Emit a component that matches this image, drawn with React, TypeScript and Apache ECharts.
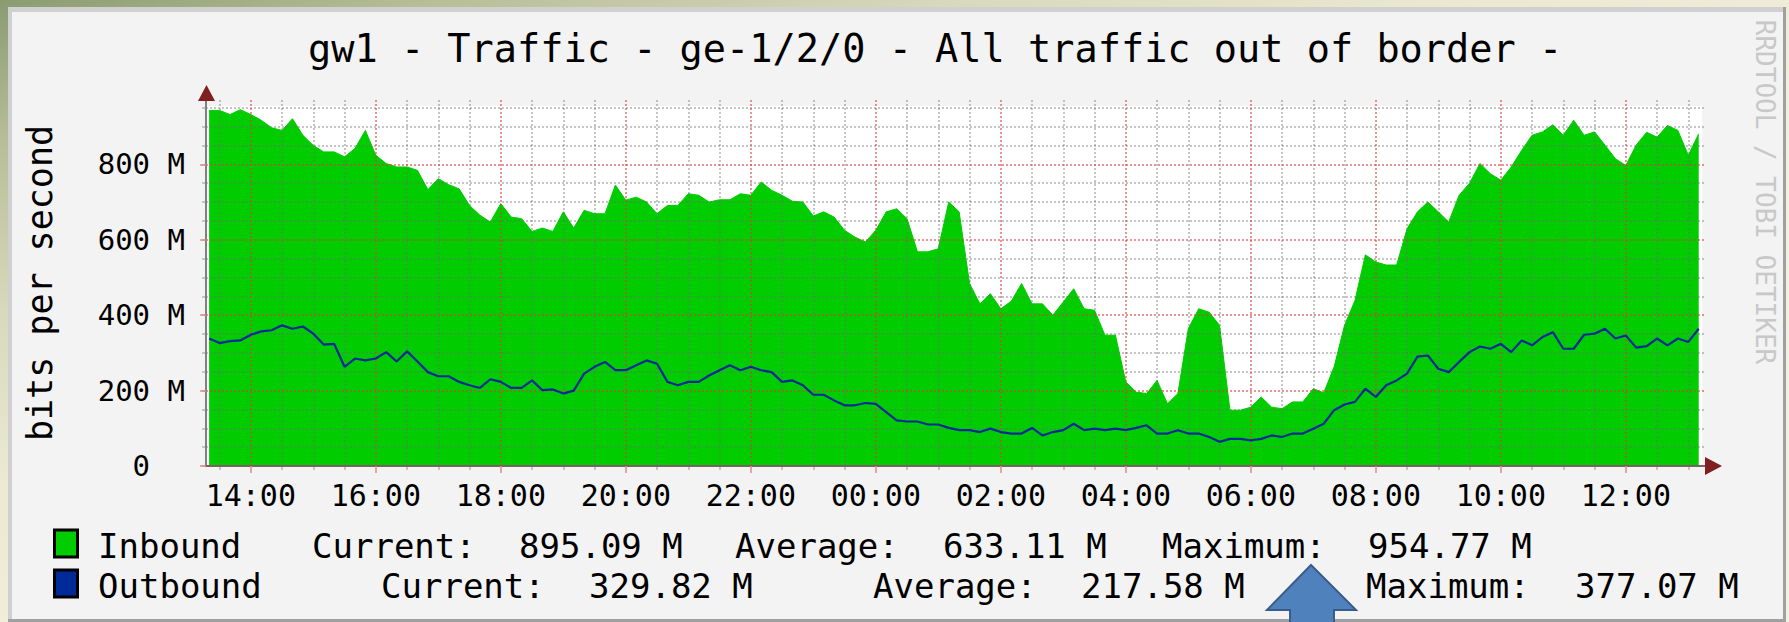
import React, { useEffect, useRef } from 'react';
import * as echarts from 'echarts';

// ---------------- data ----------------
const TITLE = 'gw1 - Traffic - ge-1/2/0 - All traffic out of border -';
const Y_AXIS_NAME = 'bits per second';
const WATERMARK = 'RRDTOOL / TOBI OETIKER';

const timeLabels = [
  '13:20', '13:30', '13:40', '13:50',
  '14:00', '14:10', '14:20', '14:30', '14:40', '14:50',
  '15:00', '15:10', '15:20', '15:30', '15:40', '15:50',
  '16:00', '16:10', '16:20', '16:30', '16:40', '16:50',
  '17:00', '17:10', '17:20', '17:30', '17:40', '17:50',
  '18:00', '18:10', '18:20', '18:30', '18:40', '18:50',
  '19:00', '19:10', '19:20', '19:30', '19:40', '19:50',
  '20:00', '20:10', '20:20', '20:30', '20:40', '20:50',
  '21:00', '21:10', '21:20', '21:30', '21:40', '21:50',
  '22:00', '22:10', '22:20', '22:30', '22:40', '22:50',
  '23:00', '23:10', '23:20', '23:30', '23:40', '23:50',
  '00:00', '00:10', '00:20', '00:30', '00:40', '00:50',
  '01:00', '01:10', '01:20', '01:30', '01:40', '01:50',
  '02:00', '02:10', '02:20', '02:30', '02:40', '02:50',
  '03:00', '03:10', '03:20', '03:30', '03:40', '03:50',
  '04:00', '04:10', '04:20', '04:30', '04:40', '04:50',
  '05:00', '05:10', '05:20', '05:30', '05:40', '05:50',
  '06:00', '06:10', '06:20', '06:30', '06:40', '06:50',
  '07:00', '07:10', '07:20', '07:30', '07:40', '07:50',
  '08:00', '08:10', '08:20', '08:30', '08:40', '08:50',
  '09:00', '09:10', '09:20', '09:30', '09:40', '09:50',
  '10:00', '10:10', '10:20', '10:30', '10:40', '10:50',
  '11:00', '11:10', '11:20', '11:30', '11:40', '11:50',
  '12:00', '12:10', '12:20', '12:30', '12:40', '12:50',
  '13:00', '13:10',
];

// Inbound traffic, Mbit/s
const inbound = [
  943, 943, 932, 945,
  932, 917, 897, 890, 921, 877,
  850, 833, 833, 820, 842, 890,
  824, 802, 793, 793, 784, 733,
  762, 746, 735, 691, 665, 647,
  696, 660, 656, 622, 631, 622,
  674, 631, 678, 669, 669, 745,
  705, 713, 700, 669, 691, 691,
  722, 718, 700, 706, 706, 722,
  718, 753, 731, 718, 702, 700,
  663, 674, 660, 625, 607, 594,
  625, 674, 682, 656, 568, 568,
  576, 700, 674, 484, 430, 457,
  417, 437, 484, 430, 430, 400,
  435, 470, 417, 413, 347, 347,
  223, 196, 192, 227, 165, 192,
  364, 417, 408, 373, 148, 148,
  156, 183, 156, 152, 170, 170,
  205, 194, 263, 373, 439, 560,
  541, 533, 533, 629, 674, 700,
  674, 647, 718, 750, 802, 775,
  758, 793, 837, 877, 886, 905,
  877, 917, 877, 886, 851, 815,
  797, 851, 885, 872, 903, 890,
  824, 881,
];

// Outbound traffic, Mbit/s
const outbound = [
  338, 326, 331, 333,
  348, 357, 360, 373, 364, 370,
  351, 322, 324, 263, 285, 280,
  285, 302, 277, 304, 277, 249,
  238, 238, 223, 214, 207, 230,
  223, 207, 207, 227, 201, 203,
  192, 200, 245, 263, 276, 254,
  254, 267, 280, 271, 223, 214,
  223, 223, 240, 254, 267, 254,
  263, 254, 249, 223, 227, 214,
  189, 189, 174, 161, 161, 167,
  165, 143, 121, 118, 118, 110,
  110, 101, 95, 95, 90, 99,
  90, 86, 86, 101, 81, 90,
  95, 112, 95, 99, 95, 99,
  95, 101, 108, 86, 86, 95,
  86, 86, 77, 64, 72, 72,
  68, 72, 81, 77, 86, 86,
  99, 112, 148, 163, 170, 205,
  183, 214, 227, 245, 290, 293,
  258, 249, 276, 302, 317, 311,
  324, 302, 333, 320, 342, 355,
  311, 311, 348, 351, 364, 338,
  346, 314, 318, 338, 320, 338,
  329, 364,
];

const xTickLabels = ['14:00', '16:00', '18:00', '20:00', '22:00', '00:00', '02:00', '04:00', '06:00', '08:00', '10:00', '12:00'];
const yTickValues = [0, 200, 400, 600, 800];
const yTickLabels = ['0', '200 M', '400 M', '600 M', '800 M'];

const legendNames = ['Inbound', 'Outbound'];
const legendColors = ['#00cc00', '#002a97'];
const statLabels = ['Current:', 'Average:', 'Maximum:'];
const inboundStats = ['895.09 M', '633.11 M', '954.77 M'];
const outboundStats = ['329.82 M', '217.58 M', '377.07 M'];

// ---------------- layout ----------------
const W = 1789;
const H = 622;
const FONT = 'DejaVu Sans Mono';
const X_MIN = 797; // 13:17, minutes since midnight of day 1
const X_MAX = 2237; // 13:17 next day
const Y_MAX = 970.6;
const MINOR_X_STEP = 30; // minutes
const MINOR_Y_STEP = 50; // Mbit/s
const MINOR_Y_TOP = 950;

const pad2 = (n: number) => (n < 10 ? '0' + n : '' + n);
const fmtMinute = (m: number) => pad2(Math.floor(m / 60) % 24) + ':' + pad2(m % 60);
const toMinute = (s: string) => {
  const [h, m] = s.split(':').map(Number);
  const v = h * 60 + m;
  return v < X_MIN ? v + 1440 : v;
};

const minuteCats: string[] = [];
for (let m = X_MIN; m <= X_MAX; m++) minuteCats.push(fmtMinute(m));

const isMajor = (_i: number, v: string) => xTickLabels.indexOf(v) >= 0;
const isMinor = (i: number, v: string) => (X_MIN + i) % MINOR_X_STEP === 0 && xTickLabels.indexOf(v) < 0;

function txt(text: string, x: number, y: number, size: number, extra: any = {}) {
  return {
    type: 'text',
    x,
    y,
    z: 20,
    rotation: extra.rotation || 0,
    style: {
      text,
      x: 0,
      y: 0,
      font: `${size}px "${FONT}"`,
      fill: extra.fill || '#000000',
      align: extra.align || 'left',
      textAlign: extra.align || 'left',
      verticalAlign: 'middle',
      textVerticalAlign: 'middle',
    },
  };
}

function buildOption() {
  const inData = timeLabels.map((t, i) => [toMinute(t), inbound[i]]);
  const outData = timeLabels.map((t, i) => [toMinute(t), outbound[i]]);

  // grid lines drawn over the area (as RRDtool does)
  const gridGray = 'rgba(110,110,110,0.4)';
  const gridRed = 'rgba(220,60,60,0.55)';
  const majorMinutes = xTickLabels.map(toMinute);
  const gridLines: any[] = [];
  for (let m = Math.ceil(X_MIN / MINOR_X_STEP) * MINOR_X_STEP; m <= X_MAX; m += MINOR_X_STEP) {
    if (majorMinutes.indexOf(m) < 0) gridLines.push({ xAxis: m, lineStyle: { color: gridGray, width: 2, type: [2, 2] } });
  }
  for (let v = MINOR_Y_STEP; v <= MINOR_Y_TOP; v += MINOR_Y_STEP) {
    if (yTickValues.indexOf(v) < 0) gridLines.push({ yAxis: v, lineStyle: { color: gridGray, width: 2, type: [2, 2] } });
  }
  majorMinutes.forEach((m) => gridLines.push({ xAxis: m, lineStyle: { color: gridRed, width: 2, type: [2, 2] } }));
  yTickValues.slice(1).forEach((v) => gridLines.push({ yAxis: v, lineStyle: { color: gridRed, width: 2, type: [2, 2] } }));

  const statX = [
    [312, 519, 735, 943, 1162, 1368],
    [381, 589, 873, 1081, 1366, 1575],
  ];
  const rowsY = [546, 586];
  const statsRows = [inboundStats, outboundStats];

  const legendGraphics: any[] = [];
  legendNames.forEach((name, r) => {
    legendGraphics.push({
      type: 'rect',
      z: 20,
      shape: { x: 54.5, y: rowsY[r] - 16, width: 23, height: 27 },
      style: { fill: legendColors[r], stroke: '#000000', lineWidth: 3 },
    });
    legendGraphics.push(txt(name, 98, rowsY[r], 34));
    statLabels.forEach((lab, k) => {
      legendGraphics.push(txt(lab, statX[r][k * 2], rowsY[r], 34));
      legendGraphics.push(txt(statsRows[r][k], statX[r][k * 2 + 1], rowsY[r], 34));
    });
  });

  const graphics: any[] = [
    // panel with shading
    { type: 'rect', z: -10, shape: { x: 8, y: 7, width: 1778, height: 615 }, style: { fill: '#d0d0d0' } },
    { type: 'rect', z: -10, shape: { x: 12, y: 12, width: 1771, height: 607 }, style: { fill: '#f3f3f3' } },
    { type: 'rect', z: -10, shape: { x: 8, y: 619, width: 1778, height: 3 }, style: { fill: '#a0a0a0' } },
    { type: 'rect', z: -10, shape: { x: 1783, y: 7, width: 3, height: 615 }, style: { fill: '#a0a0a0' } },
    // white canvas
    { type: 'rect', z: -9, shape: { x: 206, y: 106, width: 1496, height: 360 }, style: { fill: '#ffffff' } },
    // title
    txt(TITLE, 308, 48, 38.6),
    // y axis name
    txt(Y_AXIS_NAME, 40, 283, 35, { rotation: Math.PI / 2, align: 'center' }),
    // watermark
    txt(WATERMARK, 1765, 192, 26, { rotation: -Math.PI / 2, align: 'center', fill: '#c8c8c8' }),
    // axis arrows
    { type: 'polygon', z: 20, shape: { points: [[206.5, 85], [198, 101], [215, 101]] }, style: { fill: '#7f1f1f' } },
    { type: 'polygon', z: 20, shape: { points: [[1722, 466], [1705, 457], [1705, 475]] }, style: { fill: '#7f1f1f' } },
    ...legendGraphics,
    // blue pointer arrow overlay
    {
      type: 'polygon',
      z: 30,
      shape: {
        points: [[1311, 565], [1356, 610], [1334, 610], [1334, 626], [1290, 626], [1290, 610], [1267, 610]],
      },
      style: { fill: '#4f81bd', stroke: '#385d8a', lineWidth: 2 },
    },
  ];

  return {
    animation: false,
    backgroundColor: 'transparent',
    grid: { left: 206, top: 100, width: 1500, height: 366, containLabel: false, outerBoundsMode: 'none' },
    xAxis: [
      { type: 'value', min: X_MIN, max: X_MAX, show: false },
      {
        type: 'category',
        data: minuteCats,
        boundaryGap: false,
        position: 'bottom',
        z: 6,
        axisLine: { show: false },
        axisLabel: { show: false },
        axisTick: { show: true, interval: isMinor, length: 4, lineStyle: { color: '#b4b4b4', width: 1.5 } },
        splitLine: { show: false },
      },
      {
        type: 'category',
        data: minuteCats,
        boundaryGap: false,
        position: 'bottom',
        z: 7,
        axisLine: { show: true, lineStyle: { color: '#7a6262', width: 2 } },
        axisTick: { show: true, interval: isMajor, length: 7, lineStyle: { color: '#e48a8a', width: 1.5 } },
        axisLabel: {
          show: true,
          interval: isMajor,
          margin: 14,
          fontFamily: FONT,
          fontSize: 30,
          color: '#000000',
        },
        splitLine: { show: false },
      },
    ],
    yAxis: [
      {
        type: 'value',
        min: 0,
        max: Y_MAX,
        interval: MINOR_Y_STEP,
        position: 'left',
        z: 6,
        axisLine: { show: false },
        axisLabel: { show: false },
        axisTick: { show: true, length: 4, lineStyle: { color: '#b4b4b4', width: 1.5 } },
        splitLine: { show: false },
      },
      {
        type: 'value',
        min: 0,
        max: Y_MAX,
        interval: 200,
        position: 'left',
        z: 7,
        axisLine: { show: true, lineStyle: { color: '#808080', width: 2 } },
        axisTick: { show: true, length: 6, lineStyle: { color: '#e48a8a', width: 1.5 } },
        axisLabel: {
          show: true,
          margin: 21,
          fontFamily: FONT,
          fontSize: 29,
          color: '#000000',
          formatter: (v: number) => {
            const i = yTickValues.indexOf(Math.round(v));
            if (i < 0 || Math.abs(v - yTickValues[i]) > 0.01) return '';
            return i === 0 ? '{z|' + yTickLabels[0] + '}' : yTickLabels[i];
          },
          rich: { z: { fontFamily: FONT, fontSize: 29, color: '#000000', padding: [0, 35, 0, 0] } },
        },
        splitLine: { show: false },
      },
    ],
    series: [
      {
        name: legendNames[0],
        type: 'line',
        xAxisIndex: 0,
        yAxisIndex: 0,
        data: inData,
        symbol: 'none',
        z: 1,
        lineStyle: { color: legendColors[0], width: 1 },
        areaStyle: { color: legendColors[0], opacity: 1 },
      },
      {
        name: legendNames[1],
        type: 'line',
        xAxisIndex: 0,
        yAxisIndex: 0,
        data: outData,
        symbol: 'none',
        z: 10,
        lineStyle: { color: legendColors[1], width: 2.2 },
        markLine: {
          silent: true,
          z: 4,
          animation: false,
          symbol: ['none', 'none'],
          label: { show: false },
          emphasis: { disabled: true },
          data: gridLines,
        },
      },
    ],
    graphic: { elements: graphics },
  };
}

const GRADIENT =
  'linear-gradient(162deg, #8a9b72 0%, #b8be98 12%, #d8d9bd 26%, #ebe9d2 40%, #f3f0dc 60%, #f4f1de 100%)';

export default function App() {
  const ref = useRef<HTMLDivElement>(null);
  useEffect(() => {
    if (!ref.current) return;
    const chart = echarts.init(ref.current, undefined, { renderer: 'svg', width: W, height: H });
    chart.setOption(buildOption() as any);
    return () => chart.dispose();
  }, []);
  return (
    <div style={{ position: 'absolute', left: 0, top: 0, width: W, height: H, background: GRADIENT, overflow: 'hidden' }}>
      <div ref={ref} style={{ width: W, height: H }} />
    </div>
  );
}
